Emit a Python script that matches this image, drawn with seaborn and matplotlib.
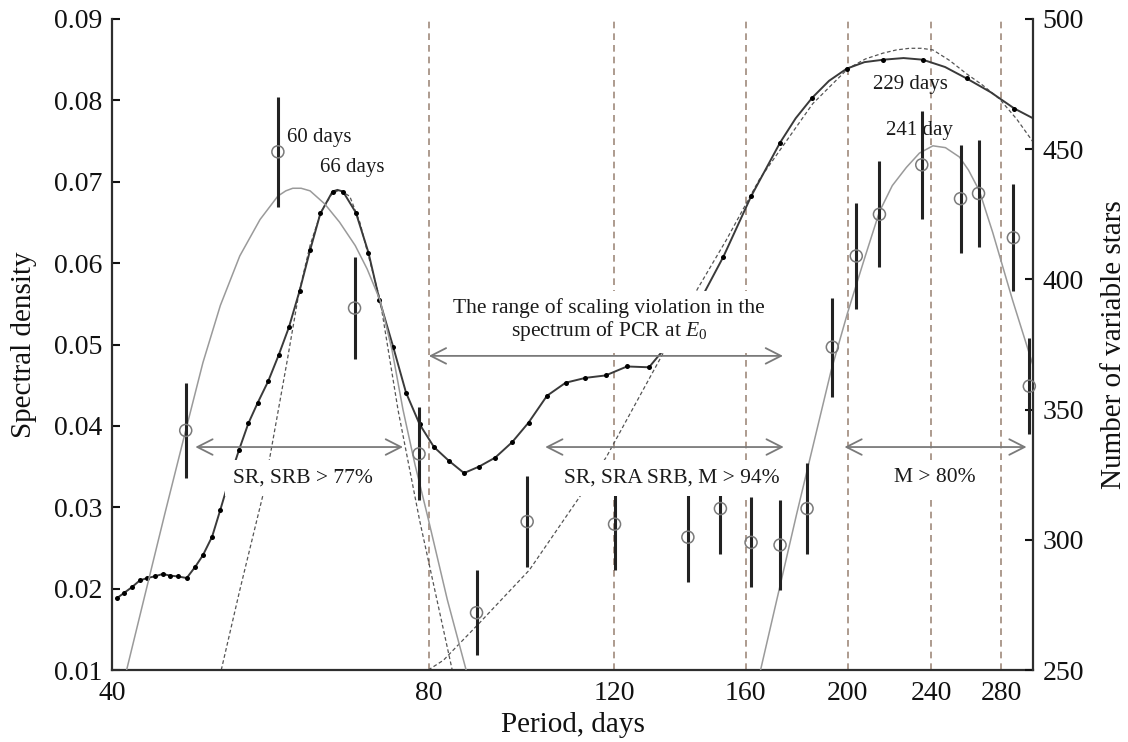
import matplotlib

matplotlib.use("Agg")
import matplotlib.pyplot as plt
import seaborn as sns
from matplotlib.ticker import FixedFormatter, FixedLocator, NullLocator

# spectral density of PCR (dark line with dots), left axis
SPEC_PERIOD = [
    40.4, 41.1, 41.8, 42.5, 43.2, 43.9, 44.7, 45.4, 46.2, 47.1, 48.0, 48.8,
    49.8, 50.7, 51.7, 52.8, 53.9, 55.0, 56.3, 57.6, 58.9, 60.3, 61.7, 63.1,
    64.8, 66.3, 68.2, 70.1, 71.8, 74.0, 76.1, 78.4, 80.9, 83.6, 86.4, 89.3,
    92.5, 96.0, 99.5, 103.6, 107.9, 112.7, 117.8, 123.4, 129.5, 136.0, 144.0,
    152.4, 161.9, 172.5, 185.0, 199.6, 216.3, 235.7, 259.4, 288.0,
]
SPEC_DENSITY = [
    0.0188, 0.0195, 0.0202, 0.0210, 0.0213, 0.0215, 0.0218, 0.0216, 0.0215,
    0.0213, 0.0227, 0.0241, 0.0264, 0.0297, 0.0334, 0.0370, 0.0403, 0.0428,
    0.0455, 0.0487, 0.0521, 0.0566, 0.0616, 0.0661, 0.0688, 0.0688, 0.0662,
    0.0613, 0.0555, 0.0497, 0.0441, 0.0402, 0.0374, 0.0357, 0.0342, 0.0350,
    0.0361, 0.0380, 0.0404, 0.0437, 0.0453, 0.0459, 0.0462, 0.0473, 0.0472,
    0.0505, 0.0548, 0.0608, 0.0682, 0.0748, 0.0803, 0.0839, 0.0850, 0.0850,
    0.0827, 0.0790,
]
# extra points read along the same line between the sparse dots (no marker)
SPEC_TRACE_PERIOD = [65.5, 178.5, 192.0, 207.5, 226.0, 247.5, 273.5, 300.0]
SPEC_TRACE_DENSITY = [0.0690, 0.0778, 0.0824, 0.0847, 0.0852, 0.0841, 0.0810,
                      0.0778]

# dashed fits of the two spectral peaks, left axis
FIT66_PERIOD = [50.8, 52.9, 55.7, 58.7, 60.2, 61.7, 63.2, 64.7, 65.8, 67.3,
                68.8, 70.0, 71.9, 74.8, 78.4, 84.2]
FIT66_DENSITY = [0.0100, 0.0198, 0.0317, 0.0481, 0.0563, 0.0622, 0.0663,
                 0.0685, 0.0690, 0.0682, 0.0650, 0.0612, 0.0555, 0.0419,
                 0.0284, 0.0100]
FIT229_PERIOD = [79.9, 82.6, 89.4, 99.7, 111.3, 118.0, 132.5, 144.1, 153.3,
                 164.9, 172.5, 185.3, 200.1, 208.0, 216.0, 222.5, 229.0, 235.0,
                 241.0, 250.0, 259.2, 268.5, 278.7, 289.5, 300.0]
FIT229_DENSITY = [0.0100, 0.0112, 0.0158, 0.0223, 0.0313, 0.0362, 0.0481,
                  0.0569, 0.0628, 0.0703, 0.0739, 0.0796, 0.0839, 0.0851,
                  0.0858, 0.0862, 0.0864, 0.0864, 0.0862, 0.0849, 0.0833,
                  0.0819, 0.0802, 0.0777, 0.0749]

# number of variable stars (circles with error bars), right axis
STAR_PERIOD = [47.0, 57.5, 68.0, 78.3, 88.8, 99.2, 120.1, 141.0, 151.4, 161.9,
               172.5, 183.0, 193.4, 203.8, 214.4, 235.2, 256.0, 266.3, 287.4,
               297.6]
STAR_COUNT = [342, 449, 389, 333, 272, 307, 306, 301, 312, 299, 298, 312, 374,
              409, 425, 444, 431, 433, 416, 359]
STAR_ERR = [18.4, 21.1, 19.5, 17.9, 16.3, 17.4, 17.7, 17.3, 17.5, 17.3, 17.2,
            17.5, 19.0, 20.2, 20.4, 20.7, 20.7, 20.7, 20.5, 18.5]

# gray gaussian fits of the star counts, right axis
GAUSS60_PERIOD = [41.3, 43.0, 44.9, 47.0, 48.8, 50.7, 52.9, 55.3, 57.5, 58.5,
                  59.4, 60.5, 61.7, 63.7, 65.8, 68.1, 69.9, 71.9, 73.8, 75.6,
                  77.6, 79.9, 83.3, 86.8]
GAUSS60_COUNT = [250, 279, 310, 342, 368, 390, 409, 423, 432, 434, 435, 435,
                 434, 429, 422, 413, 404, 392, 373, 350, 329, 308, 277, 250]
GAUSS241_PERIOD = [165.3, 178.9, 192.9, 199.9, 207.5, 214.4, 220.5, 227.4,
                   234.0, 241.0, 247.7, 255.4, 260.5, 266.8, 274.7, 286.9,
                   300.0]
GAUSS241_COUNT = [250, 310, 365, 387, 408, 426, 436, 443, 448.5, 451.3, 450.6,
                  447, 442, 434, 418, 392, 367]

X_TICKS = [40, 80, 120, 160, 200, 240, 280]
Y_TICKS = [0.01, 0.02, 0.03, 0.04, 0.05, 0.06, 0.07, 0.08, 0.09]
Y2_TICKS = [250, 300, 350, 400, 450, 500]
GUIDE_PERIODS = [80, 120, 160, 200, 240, 280]

PEAK_LABELS = ["60 days", "66 days", "229 days", "241 day"]
PEAK_X = [58.6, 63.0, 211.3, 217.6]
PEAK_Y = [0.0754, 0.0717, 0.0819, 0.0763]

RANGE_LABELS = ["SR, SRB > 77%", "SR, SRA SRB, M > 94%", "M > 80%"]
RANGE_START = [48.0, 103.2, 198.6]
RANGE_END = [75.6, 173.9, 295.8]
RANGE_TEXT_X = [60.8, 136.2, 241.9]

INK = "#2e2e2e"

sns.set_theme(style="white")
plt.rcParams["font.family"] = ["Liberation Serif", "DejaVu Serif"]
plt.rcParams["mathtext.fontset"] = "custom"
plt.rcParams["mathtext.rm"] = "Liberation Serif"
plt.rcParams["mathtext.it"] = "Liberation Serif:italic"

fig = plt.figure(figsize=(11.28, 7.42), dpi=100)
ax = fig.add_axes([112 / 1128, 72 / 742, 921 / 1128, 651 / 742])
ax.set_xscale("log")
ax2 = ax.twinx()

for p in GUIDE_PERIODS:
    ax.axvline(p, color="#a08a7c", lw=1.2, ls=(0, (4, 3)), zorder=0)

sns.lineplot(x=FIT66_PERIOD, y=FIT66_DENSITY, ax=ax, sort=False, estimator=None,
             color="#555555", lw=0.9, ls=(0, (3, 2)))
sns.lineplot(x=FIT229_PERIOD, y=FIT229_DENSITY, ax=ax, sort=False,
             estimator=None, color="#555555", lw=0.9, ls=(0, (3, 2)))

# spectral line through dots and trace points, dots only on the read dots
spec = sorted(
    [(p, d, True) for p, d in zip(SPEC_PERIOD, SPEC_DENSITY)]
    + [(p, d, False) for p, d in zip(SPEC_TRACE_PERIOD, SPEC_TRACE_DENSITY)]
)
dot_idx = [i for i, s in enumerate(spec) if s[2]]
sns.lineplot(x=[s[0] for s in spec], y=[s[1] for s in spec], ax=ax, sort=False,
             estimator=None, color="#3a3a3a", lw=1.4, marker="o",
             markersize=3.6, markerfacecolor="black", markeredgecolor="black",
             markeredgewidth=0, markevery=dot_idx)

sns.lineplot(x=GAUSS60_PERIOD, y=GAUSS60_COUNT, ax=ax2, sort=False,
             estimator=None, color="#9a9a9a", lw=1.1)
sns.lineplot(x=GAUSS241_PERIOD, y=GAUSS241_COUNT, ax=ax2, sort=False,
             estimator=None, color="#9a9a9a", lw=1.1)
ax2.errorbar(STAR_PERIOD, STAR_COUNT, yerr=STAR_ERR, fmt="none",
             ecolor="#222222", elinewidth=2.2, capsize=0)
sns.scatterplot(x=STAR_PERIOD, y=STAR_COUNT, ax=ax2, marker="o", s=75,
                fc="none", ec="#7a7a7a", linewidth=1.1, clip_on=False, zorder=4)

# labels and arrows, placed in left-axis units but drawn above everything
for label, x, y in zip(PEAK_LABELS, PEAK_X, PEAK_Y):
    ax2.text(x, y, label, transform=ax.transData, fontsize=15, color="#1a1a1a",
             ha="left", va="center")

arrow = dict(arrowstyle="<->,head_length=0.55,head_width=0.28", color="#7a7a7a",
             lw=1.3, shrinkA=0, shrinkB=0, mutation_scale=20)
for label, x0, x1, xt in zip(RANGE_LABELS, RANGE_START, RANGE_END, RANGE_TEXT_X):
    ax2.annotate("", xy=(x1, 0.0374), xytext=(x0, 0.0374), xycoords=ax.transData,
                 textcoords=ax.transData, arrowprops=arrow, zorder=6)
    ax2.text(xt, 0.0336, label, transform=ax.transData, fontsize=15.5,
             color="#1a1a1a", ha="center", va="center", zorder=5,
             bbox=dict(fc="white", ec="none", pad=6))

ax2.annotate("", xy=(173.6, 0.0486), xytext=(80, 0.0486), xycoords=ax.transData,
             textcoords=ax.transData, arrowprops=arrow, zorder=6)
ax2.text(118.7, 0.0529, "The range of scaling violation in the\n"
         "spectrum of PCR at $E_0$", transform=ax.transData, fontsize=15.5,
         color="#1a1a1a", ha="center", va="center", linespacing=1.05, zorder=5,
         bbox=dict(fc="white", ec="none", pad=7))

ax.set_xlim(40, 300)
ax.set_ylim(0.01, 0.09)
ax2.set_ylim(250, 500)
ax.xaxis.set_major_locator(FixedLocator(X_TICKS))
ax.xaxis.set_major_formatter(FixedFormatter([str(t) for t in X_TICKS]))
ax.xaxis.set_minor_locator(NullLocator())
ax.set_yticks(Y_TICKS)
ax.set_yticklabels([f"{t:.2f}" for t in Y_TICKS])
ax2.set_yticks(Y2_TICKS)

ax.set_xlabel("Period, days", fontsize=21, labelpad=4, color="#111111")
ax.set_ylabel("Spectral density", fontsize=21, labelpad=12, color="#111111")
ax2.set_ylabel("Number of variable stars", fontsize=21, labelpad=12,
               color="#111111")

ax.tick_params(axis="x", length=0, pad=8, labelsize=20, colors="#111111")
ax.tick_params(axis="y", direction="in", length=6, width=1.5, pad=7,
               labelsize=20, colors="#111111")
ax2.tick_params(axis="y", direction="in", length=6, width=1.5, pad=7,
                labelsize=20, colors="#111111")

for a in (ax, ax2):
    a.spines["top"].set_visible(False)
    for side in ("left", "right", "bottom"):
        a.spines[side].set_color(INK)
        a.spines[side].set_linewidth(1.6)
ax.spines["right"].set_visible(False)
ax2.spines["left"].set_visible(False)
ax2.spines["bottom"].set_visible(False)

fig.savefig("out.png", dpi=100)
